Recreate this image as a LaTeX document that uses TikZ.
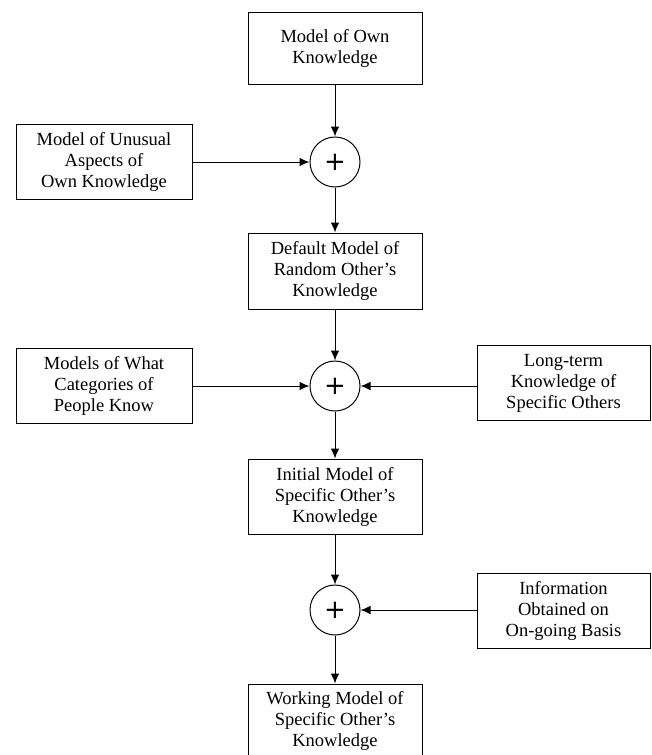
\documentclass[tikz,border=0pt]{standalone}
\usepackage{fontspec}
\setmainfont{Liberation Serif}
\newfontfamily\plusfont{DejaVu Sans}
\usetikzlibrary{arrows.meta}
\begin{document}
\begin{tikzpicture}[x=1pt,y=-1pt,
  box/.style={draw, line width=1pt, minimum width=174pt, minimum height=75pt, align=center, inner sep=0pt, font=\fontsize{18.5}{21}\selectfont},
  sum/.style={draw, circle, line width=1pt, minimum size=50pt, inner sep=0pt, font=\plusfont\fontsize{26}{26}\selectfont},
  arr/.style={-{Latex[length=10pt,width=8.5pt]}, line width=1pt}]
\useasboundingbox (0,0) rectangle (651,755);
\node[box, minimum height=72pt] (own) at (335,48) {Model of Own\\Knowledge};
\node[sum] (s1) at (335,162) {+};
\node[box, minimum width=176pt] (unusual) at (104,162) {Model of Unusual\\Aspects of\\Own Knowledge};
\node[box, minimum height=76pt] (default) at (335,271) {Default Model of\\Random Other's\\Knowledge};
\node[sum] (s2) at (335,386) {+};
\node[box, minimum width=176pt] (cats) at (104,386) {Models of What\\Categories of\\People Know};
\node[box, minimum width=173pt] (longterm) at (563.5,383) {Long-term\\Knowledge of\\Specific Others};
\node[box] (initial) at (335,496.5) {Initial Model of\\Specific Other's\\Knowledge};
\node[sum] (s3) at (335,610) {+};
\node[box, minimum width=173pt] (info) at (563.5,610.5) {Information\\Obtained on\\On-going Basis};
\node[box, minimum height=74pt] (working) at (335,721) {Working Model of\\Specific Other's\\Knowledge};
\draw[arr] (own) -- (s1);
\draw[arr] (unusual.east |- s1) -- (s1);
\draw[arr] (s1) -- (default);
\draw[arr] (default) -- (s2);
\draw[arr] (cats.east |- s2) -- (s2);
\draw[arr] (longterm.west |- s2) -- (s2);
\draw[arr] (s2) -- (initial);
\draw[arr] (initial) -- (s3);
\draw[arr] (info.west |- s3) -- (s3);
\draw[arr] (s3) -- (working);
\end{tikzpicture}
\end{document}
